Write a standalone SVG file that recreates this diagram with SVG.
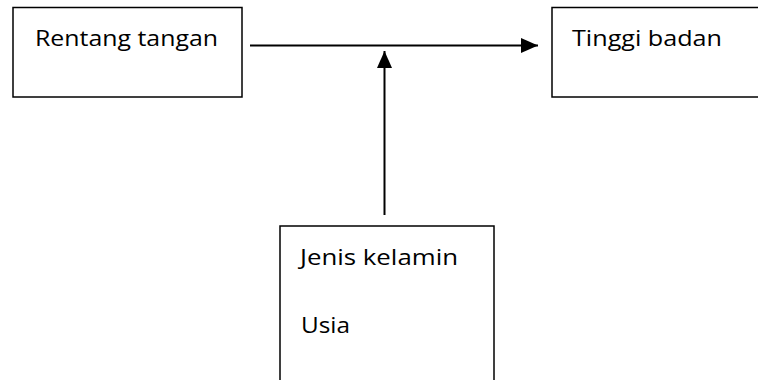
<svg xmlns="http://www.w3.org/2000/svg" width="758" height="380" viewBox="0 0 758 380">
<style>
.box{fill:#fff;stroke:#000;stroke-width:1.5}
.lbl{font-family:"Open Sans","Liberation Sans",sans-serif;font-size:22.5px;fill:#000}
.conn{stroke:#000;stroke-width:2;fill:none}
</style>
<defs>
<marker id="ah" markerWidth="17" markerHeight="15" refX="17" refY="7.5" orient="auto" markerUnits="userSpaceOnUse">
<path d="M0,0 L17,7.5 L0,15 Z" fill="#000"/>
</marker>
</defs>
<rect width="758" height="380" fill="#fff"/>
<g id="node-rentang">
<rect class="box" x="13" y="7.5" width="229" height="89.5"/>
<text class="lbl" x="35" y="46" textLength="183" lengthAdjust="spacingAndGlyphs">Rentang tangan</text>
</g>
<g id="node-tinggi">
<rect class="box" x="552" y="7.5" width="215" height="89.5"/>
<text class="lbl" x="572" y="46" textLength="150" lengthAdjust="spacingAndGlyphs">Tinggi badan</text>
</g>
<g id="node-jenis">
<rect class="box" x="280" y="226" width="214" height="170"/>
<text class="lbl" x="300" y="265" textLength="158" lengthAdjust="spacingAndGlyphs">Jenis kelamin</text>
<text class="lbl" x="301" y="333" textLength="49" lengthAdjust="spacingAndGlyphs">Usia</text>
</g>
<g id="connectors">
<line class="conn" x1="250" y1="45.5" x2="538" y2="45.5" marker-end="url(#ah)"/>
<line class="conn" x1="384.5" y1="215" x2="384.5" y2="51" marker-end="url(#ah)"/>
</g>
</svg>
